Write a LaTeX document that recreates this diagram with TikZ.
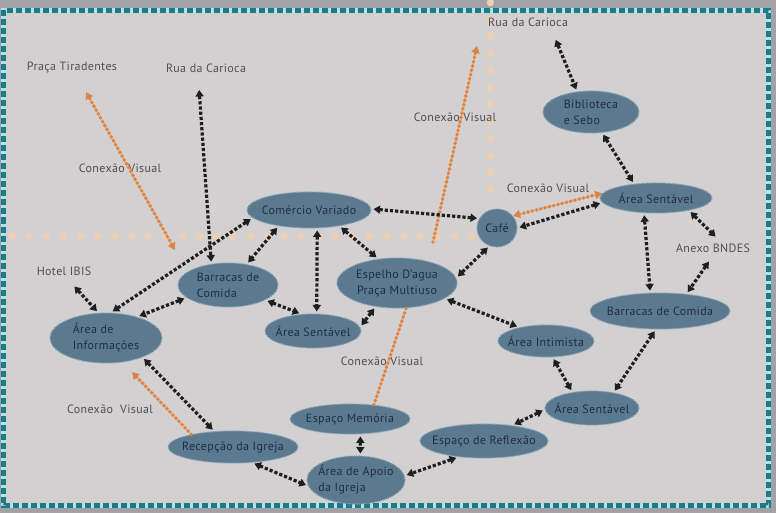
\documentclass[tikz,border=0pt]{standalone}
\usepackage{fontspec}
\setmainfont{PT Sans}[LetterSpace=3]
\usetikzlibrary{shapes.geometric,arrows.meta}
\definecolor{outergray}{HTML}{A2A2A6}
\definecolor{paper}{HTML}{D3D0D1}
\definecolor{frameteal}{HTML}{1B7C87}
\definecolor{framelight}{HTML}{B4E2E8}
\definecolor{placefill}{HTML}{5B7A90}
\definecolor{placeedge}{HTML}{86A0B3}
\definecolor{placetext}{HTML}{1F2E42}
\definecolor{labeltext}{HTML}{505050}
\definecolor{linkblack}{HTML}{1E1E1E}
\definecolor{visorange}{HTML}{DA8548}
\definecolor{visband}{HTML}{ECB58A}
\definecolor{peach}{HTML}{EBD0B6}
\tikzset{
  otip/.tip={Triangle[length=7pt,width=8pt,color=visorange]},
  ktip/.tip={Triangle[length=6.5pt,width=8pt]}
}
\begin{document}
\begin{tikzpicture}[x=1pt,y=-1pt,
  font=\fontsize{12}{16}\selectfont,
  place/.style={ellipse, fill=placefill, draw=placeedge, line width=1.2pt,
    dash pattern=on 1.2pt off 1.2pt, inner sep=0pt},
  ptext/.style={text=placetext, inner sep=0pt, align=left},
  lbl/.style={text=labeltext, inner sep=1pt},
  link/.style={draw=linkblack, line width=3.2pt, dash pattern=on 3.2pt off 2pt,
    ktip-ktip, shorten <=2pt, shorten >=2pt},
  visband/.style={draw=visband, line width=2.2pt},
  vis/.style={draw=visorange, line width=3.8pt, line cap=round,
    dash pattern=on 0pt off 4.4pt},
  guide/.style={draw=peach, line width=7pt, line cap=round,
    dash pattern=on 1pt off 16pt}
]
\useasboundingbox (0,0) rectangle (776,513);

% page and dashed frame
\fill[outergray] (0,0) rectangle (776,513);
\fill[paper] (4,10) rectangle (768,506);
\draw[framelight, line width=5pt] (3.5,10.5) rectangle (768.5,505.5);
\draw[frameteal, line width=5pt, dash pattern=on 6pt off 3pt] (3.5,10.5) rectangle (768.5,505.5);

% faint guide lines
\coordinate (gH1) at (12,236);
\coordinate (gH2) at (476,236);
\coordinate (gV1) at (490,2);
\coordinate (gV2) at (490,206);
\draw[guide] (gH1) -- (gH2);
\draw[guide] (gV1) -- (gV2);

% places
\node[place, minimum width=96pt, minimum height=42pt,
  label={[ptext]center:Biblioteca\\e Sebo}] (bib) at (591,112) {};
\node[place, minimum width=112pt, minimum height=30pt,
  label={[ptext]center:Área Sentável}] (asR) at (656,198) {};
\node[place, minimum width=40pt, minimum height=38pt,
  label={[ptext]center:Café}] (cafe) at (497,228) {};
\node[place, minimum width=124pt, minimum height=36pt,
  label={[ptext]center:Comércio Variado}] (com) at (309,210) {};
\node[place, minimum width=100pt, minimum height=44pt,
  label={[ptext]center:Barracas de\\Comida}] (barL) at (228,285) {};
\node[place, minimum width=120pt, minimum height=50pt,
  label={[ptext,align=center]center:Espelho D'agua\\Praça Multiuso}] (esp) at (397,283) {};
\node[place, minimum width=96pt, minimum height=34pt,
  label={[ptext]center:Área Sentável}] (asM) at (313,331) {};
\node[place, minimum width=112pt, minimum height=50pt,
  label={[ptext]center:Área de\\Informações}] (info) at (106,338) {};
\node[place, minimum width=140pt, minimum height=36pt,
  label={[ptext]center:Barracas de Comida}] (barR) at (660,311) {};
\node[place, minimum width=96pt, minimum height=32pt,
  label={[ptext]center:Área Intimista}] (intim) at (546,341) {};
\node[place, minimum width=94pt, minimum height=34pt,
  label={[ptext]center:Área Sentável}] (asB) at (592,408) {};
\node[place, minimum width=128pt, minimum height=34pt,
  label={[ptext]center:Espaço de Reflexão}] (refl) at (484,441) {};
\node[place, minimum width=120pt, minimum height=30pt,
  label={[ptext]center:Espaço Memória}] (mem) at (350,419) {};
\node[place, minimum width=130pt, minimum height=32pt,
  label={[ptext]center:Recepção da Igreja}] (rec) at (233,447) {};
\node[place, minimum width=98pt, minimum height=48pt,
  label={[ptext]center:Área de Apoio\\da Igreja}] (apoio) at (356,480) {};

% outside destinations and captions
\node[lbl] (lPraca) at (72,68) {Praça Tiradentes};
\node[lbl] (lRuaL) at (206,68) {Rua da Carioca};
\node[lbl] (lRuaT) at (528,22) {Rua da Carioca};
\node[lbl] (lHotel) at (64,271) {Hotel IBIS};
\node[lbl] (lAnexo) at (713,248) {Anexo BNDES};
\node[lbl] (cv1) at (120,168) {Conexão Visual};
\node[lbl] (cv2) at (455,117) {Conexão Visual};
\node[lbl] (cv3) at (548,188) {Conexão Visual};
\node[lbl] (cv4) at (382,361) {Conexão Visual};
\node[lbl] (cv5) at (110,409) {Conexão\ \ Visual};

% free ends of the links
\coordinate (tRuaL) at (199,88);
\coordinate (tRuaT) at (555,38);
\coordinate (tHotel) at (73,285);
\coordinate (tAnexoA) at (717,238);
\coordinate (tAnexoB) at (710,260);
\coordinate (oPraca) at (86,92);
\coordinate (oPracaEnd) at (175,250);
\coordinate (oRuaT) at (477,46);
\coordinate (oEspEnd) at (433,242);
\coordinate (oInfo) at (132,372);

% visual connections: a light band under round orange dots
\foreach \a/\b in {oPracaEnd/oPraca, oEspEnd/oRuaT, cafe.37/asR.175,
                   mem.31/esp.290, rec.163/oInfo}
  \draw[visband, shorten >=4pt, shorten <=2pt] (\a) -- (\b);
\draw[vis, otip-otip] (oPracaEnd) -- (oPraca);
\draw[vis, -otip] (oEspEnd) -- (oRuaT);
\draw[vis, otip-otip] (cafe.37) -- (asR.175);
\draw[vis] (mem.31) -- (esp.290);
\draw[vis, -otip] (rec.163) -- (oInfo);

% paths between places
\draw[link] (tRuaL) -- (barL.128);
\draw[link] (tRuaT) -- (bib.124);
\draw[link] (bib.-62) -- (asR.147);
\draw[link] (asR.185) -- (cafe.0);
\draw[link] (com.1) -- (cafe.152);
\draw[link] (cafe.247) -- (esp.5);
\draw[link] (com.-28) -- (esp.128);
\draw[link] (com.-66) -- (asM.78);
\draw[link] (com.208) -- (barL.48);
\draw[link] (com.188) -- (info.79);
\draw[link] (barL.197) -- (info.34);
\draw[link] (tHotel) -- (info.107);
\draw[link] (barL.-22) -- (asM.125);
\draw[link] (esp.228) -- (asM.5);
\draw[link] (esp.-18) -- (intim.153);
\draw[link] (asR.232) -- (barR.118);
\draw[link] (asR.-21) -- (tAnexoA);
\draw[link] (tAnexoB) -- (barR.33);
\draw[link] (barR.257) -- (asB.36);
\draw[link] (intim.292) -- (asB.141);
\draw[link] (asB.182) -- (refl.29);
\draw[link] (refl.212) -- (apoio.5);
\draw[link] (mem.304) -- (apoio.80);
\draw[link] (rec.321) -- (apoio.187);
\draw[link] (info.332) -- (rec.140);
\end{tikzpicture}
\end{document}
